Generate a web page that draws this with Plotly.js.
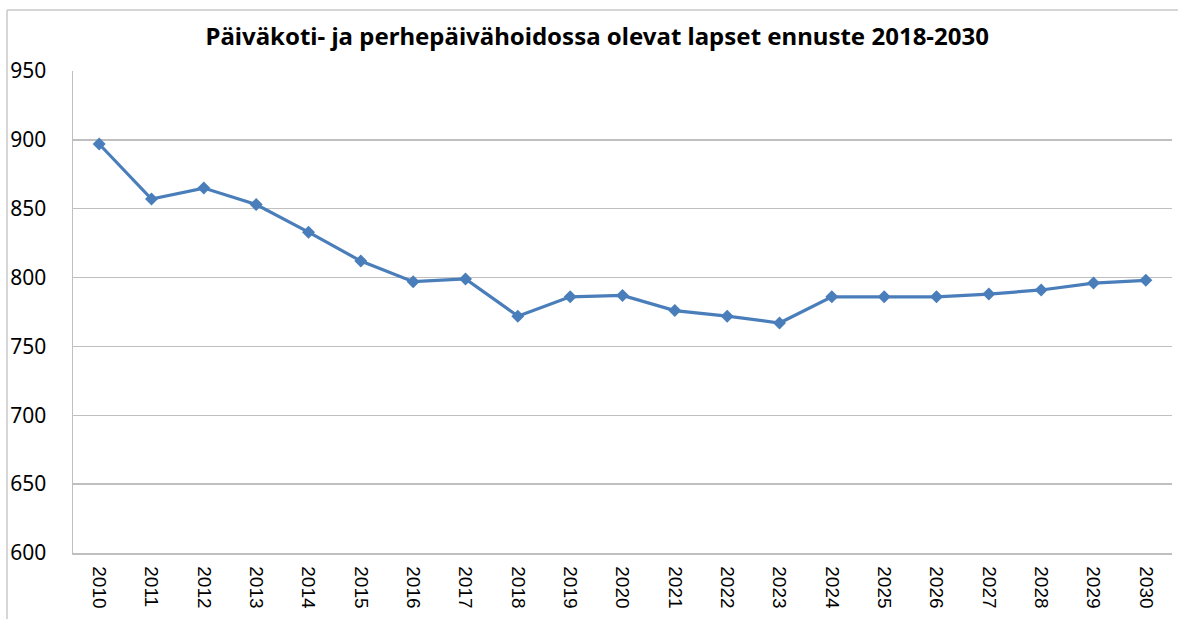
<!DOCTYPE html>
<html>
<head>
<meta charset="utf-8">
<script src="https://cdn.plot.ly/plotly-3.0.1.min.js"></script>
<style>
html,body{margin:0;padding:0;background:#fff;}
#chart{width:1178px;height:619px;}
</style>
</head>
<body>
<div id="chart"></div>
<script>
const years = ['2010','2011','2012','2013','2014','2015','2016','2017','2018','2019','2020','2021','2022','2023','2024','2025','2026','2027','2028','2029','2030'];
const children = [897,857,865,853,833,812,797,799,772,786,787,776,772,767,786,786,786,788,791,796,798];
const yTicks = [600,650,700,750,800,850,900,950];
const titleText = 'Päiväkoti- ja perhepäivähoidossa olevat lapset ennuste 2018-2030';

const trace = {
  x: years,
  y: children,
  type: 'scatter',
  mode: 'lines+markers',
  line: {color: '#4a7ebb', width: 3.2},
  marker: {symbol: 'diamond', size: 10, color: '#4a7ebb'},
  hoverinfo: 'x+y'
};

const layout = {
  width: 1178,
  height: 619,
  margin: {l: 73, r: 6, t: 71, b: 66},
  paper_bgcolor: '#fff',
  plot_bgcolor: '#fff',
  showlegend: false,
  font: {family: 'Noto Sans, Open Sans, sans-serif', color: '#000'},
  title: {
    text: '<b>' + titleText + '</b>',
    font: {family: 'Noto Sans, sans-serif', size: 24, color: '#000'},
    x: 0.507, xref: 'container', xanchor: 'center',
    y: 1 - 37/619, yref: 'container', yanchor: 'middle'
  },
  xaxis: {
    type: 'category',
    tickangle: 90,
    tickfont: {family: 'Liberation Sans, sans-serif', size: 19, color: '#000'},
    showgrid: false,
    showline: true,
    linecolor: '#bfbfbf',
    linewidth: 1.5,
    ticks: '',
    ticklabelstandoff: 8,
    range: [-0.5, 20.5],
    fixedrange: true
  },
  yaxis: {
    range: [600, 950],
    tickvals: yTicks,
    ticktext: yTicks.map(String),
    tickfont: {family: 'Noto Sans, sans-serif', size: 21, color: '#000'},
    showgrid: true,
    gridcolor: '#bfbfbf',
    gridwidth: 1.5,
    showline: true,
    linecolor: '#bfbfbf',
    linewidth: 1.5,
    zeroline: false,
    ticks: '',
    ticklabelstandoff: 21,
    fixedrange: true
  },
  shapes: [
    {type: 'line', xref: 'paper', yref: 'paper', x0: (7-73)/1099, x1: (1178-73)/1099, y0: (553-10)/482, y1: (553-10)/482, line: {color: '#c8c8c8', width: 1.5}},
    {type: 'line', xref: 'paper', yref: 'paper', x0: (7-73)/1099, x1: (7-73)/1099, y0: (553-10)/482, y1: (553-625)/482, line: {color: '#c8c8c8', width: 1.5}}
  ]
};

Plotly.newPlot('chart', [trace], layout, {displayModeBar: false, staticPlot: true});
</script>
</body>
</html>
